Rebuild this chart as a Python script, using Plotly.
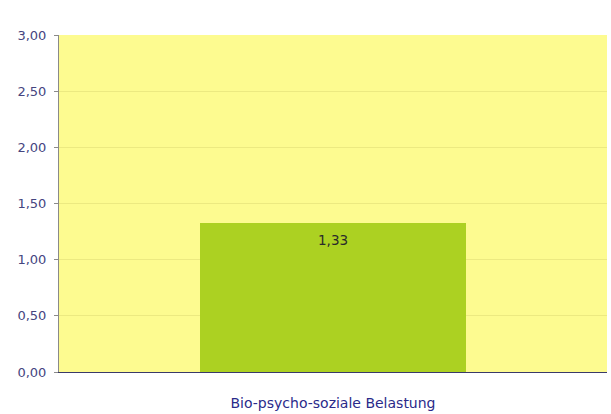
import plotly.graph_objects as go

categories = ["Bio-psycho-soziale Belastung"]
values = [1.33]
value_labels = ["1,33"]
y_ticks = [0, 0.5, 1.0, 1.5, 2.0, 2.5, 3.0]

fig = go.Figure(go.Bar(
    x=categories, y=values, width=0.487,
    marker=dict(color="#acd122", line=dict(width=0)),
    hoverinfo="skip",
))
for c, v, t in zip(categories, values, value_labels):
    fig.add_annotation(x=c, y=v, text=t, showarrow=False, yanchor="top", yshift=-7,
                       font=dict(color="#2a2a2a", size=13.5, family="DejaVu Sans"))

fig.update_layout(
    width=611, height=414,
    margin=dict(l=59, r=4, t=35, b=42),
    paper_bgcolor="white", plot_bgcolor="#fdfb90",
    separators=",.",
    font=dict(family="DejaVu Sans", size=12, color="#3a3a80"),
    showlegend=False,
    bargap=0,
)
fig.update_yaxes(
    range=[0, 3], tickvals=y_ticks, tickformat=".2f",
    showgrid=True, gridcolor="#ece981", gridwidth=1,
    showline=True, linecolor="#8a8a8a", linewidth=1,
    ticks="outside", ticklen=4, tickcolor="#8a8a8a",
    ticklabelstandoff=5,
    zeroline=False, tickfont=dict(color="#45457f", size=13),
)
fig.update_xaxes(
    range=[-0.5, 0.5],
    showline=True, linecolor="#3a3a6a", linewidth=1,
    ticks="", ticklabelstandoff=18,
    tickfont=dict(color="#2a2a8a", size=14),
)

fig.write_html("out.html", config={"displayModeBar": False},
               post_script="document.body.style.margin='0';document.body.style.padding='0';")
